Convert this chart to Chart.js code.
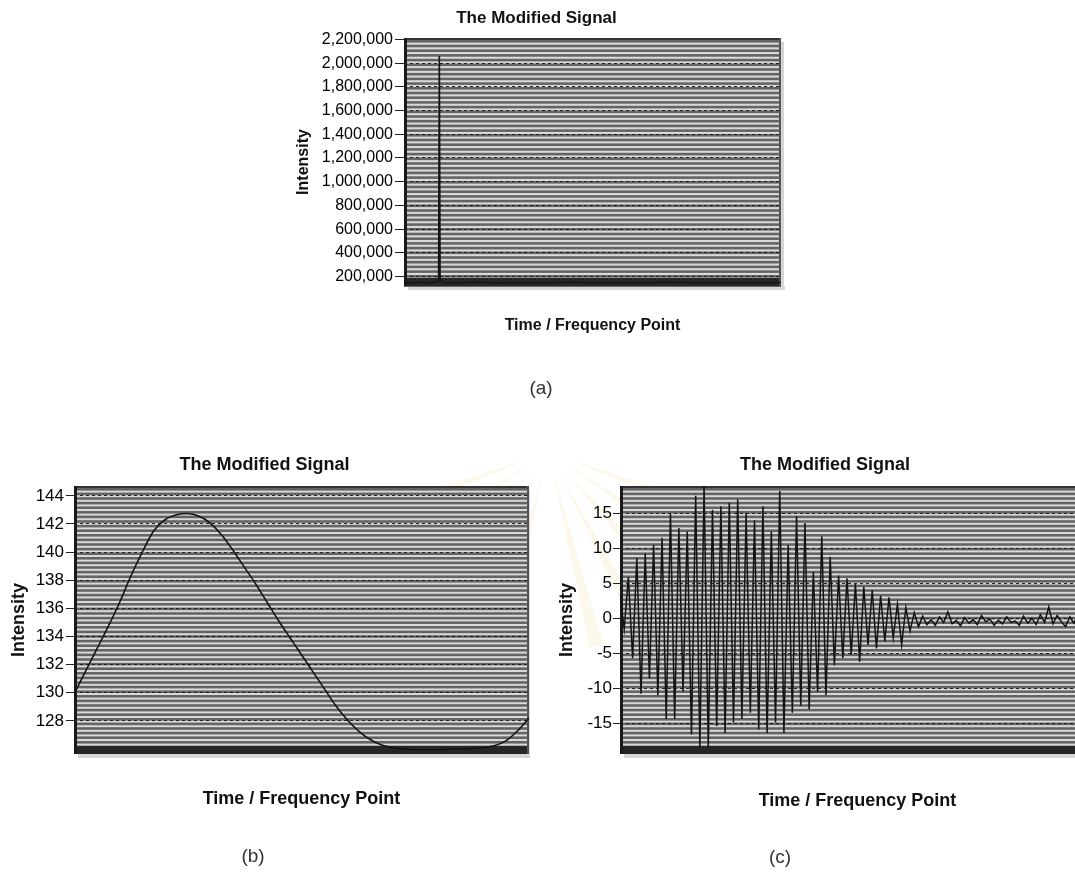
<!DOCTYPE html>
<html>
<head>
<meta charset="utf-8">
<title>The Modified Signal</title>
<script src="https://cdn.jsdelivr.net/npm/chart.js@4.4.1/dist/chart.umd.min.js"></script>
<style>
  html, body { margin: 0; padding: 0; background: #fff; }
  body { position: relative; width: 1075px; height: 876px; overflow: hidden; font-family: 'Liberation Sans', Arial, sans-serif; }
  canvas { position: absolute; }
  .tag { position: absolute; width: 60px; text-align: center; font-size: 19px; line-height: 22px; color: #333; }
</style>
</head>
<body>
<canvas id="backdrop" width="1075" height="876" style="left:0;top:0"></canvas>
<canvas id="chartA" width="494" height="345" style="left:292px;top:0px"></canvas>
<canvas id="chartB" width="530" height="380" style="left:0px;top:440px"></canvas>
<canvas id="chartC" width="540" height="380" style="left:555px;top:440px"></canvas>
<div class="tag" style="left:511px;top:377px">(a)</div>
<div class="tag" style="left:223px;top:845px">(b)</div>
<div class="tag" style="left:750px;top:846px">(c)</div>
<script>
const FONT = "'Liberation Sans', Arial, sans-serif";

// (a) raw spectrum: one sharp spike, flat elsewhere
const aPoints = [0, 12, 24, 36, 44, 47, 48, 49, 52, 64, 96, 128, 160, 192, 224, 256, 288, 320, 352, 384, 416, 448, 480, 512];
const aIntensity = [150000, 146000, 152000, 148000, 155000, 160000, 2060000, 170000, 150000, 147000, 151000, 146000,
                    150000, 148000, 152000, 147000, 150000, 146000, 151000, 149000, 147000, 150000, 148000, 150000];
const aTicks = [200000, 400000, 600000, 800000, 1000000, 1200000, 1400000, 1600000, 1800000, 2000000, 2200000];

// (b) smooth single swing
const bPoints = [0, 1, 2, 3, 4, 5, 6, 7, 8, 9, 10, 11, 12, 13, 14, 15, 16, 17, 18, 19, 20,
                 21, 22, 23, 24, 25, 26, 27, 28, 29, 30, 31, 32, 33, 34, 35, 36, 37, 38, 39, 40];
const bIntensity = [129.9, 131.5, 133.1, 134.7, 136.4, 138.3, 140.0, 141.5, 142.3, 142.65, 142.75, 142.55, 142.05, 141.2,
                    140.1, 138.9, 137.7, 136.4, 135.1, 133.9, 132.7, 131.5, 130.3, 129.1, 128.1, 127.3, 126.7, 126.3,
                    126.1, 126.0, 125.95, 125.95, 125.95, 126.0, 126.0, 126.05, 126.1, 126.25, 126.6, 127.3, 128.2];
const bTicks = [128, 130, 132, 134, 136, 138, 140, 142, 144];

// (c) fast oscillation that dies out into noise
const cIntensity = [3.5, -1.5, 5.9, -5.7, 8.6, -10.8, 9.3, -8.6, 10.5, -11.0, 11.5, -14.4, 14.9, -14.4, 12.9, -10.5,
                    12.4, -16.6, 17.5, -18.5, 19.0, -18.5, 15.5, -15.4, 16.0, -16.4, 16.5, -14.9, 17.0, -14.4, 15.0, -13.5,
                    14.0, -15.9, 16.0, -16.4, 12.4, -14.9, 18.2, -16.4, 10.5, -13.5, 14.6, -12.5, 13.6, -13.0, 6.6, -10.5,
                    11.7, -11.0, 8.8, -6.7, 6.1, -5.7, 5.7, -5.2, 4.9, -6.2, 4.5, -3.8, 4.0, -4.3, 3.2, -3.3,
                    3.0, -2.8, 2.0, -3.8, 1.5, -1.8,
                    0.8, -1.2, 0.3, -0.9, -0.2, -1.0, 0.2, -0.6, 0.9, -0.8, -0.3, -1.1, 0.1, -0.7, -0.2, -0.9,
                    0.4, -0.5, -0.1, -1.0, -0.3, -0.8, 0.2, -0.6, -0.4, -1.0, 0.3, -0.7, 0.0, -0.9, 0.5, -0.6,
                    1.6, -0.8, 0.4, -0.5, -1.2, 0.2, -0.7, 0.6, -0.4, 1.2, -0.3, 1.0];
const cPoints = cIntensity.map((v, i) => i);
const cTicks = [-15, -10, -5, 0, 5, 10, 15];

// hatched plot area with a heavy frame, like the old spreadsheet charts
const plotFrame = {
  id: 'plotFrame',
  beforeDraw(chart, args, opts) {
    const { ctx, chartArea: a } = chart;
    ctx.save();
    ctx.fillStyle = '#d6d6d6';
    ctx.fillRect(a.left + 4, a.bottom, a.width, 4);
    ctx.fillRect(a.right, a.top + 4, 3, a.height);
    ctx.fillStyle = '#d9d9d9';
    ctx.fillRect(a.left, a.top, a.width, a.height);
    ctx.fillStyle = '#646464';
    for (let y = a.top + 2; y < a.bottom; y += opts.stripe) {
      ctx.fillRect(a.left, y, a.width, 2.6);
    }
    ctx.restore();
  },
  beforeDatasetsDraw(chart) {
    const { ctx, chartArea: a } = chart;
    ctx.save();
    ctx.fillStyle = '#262626';
    ctx.fillRect(a.left, a.bottom - 8, a.width, 8);
    ctx.fillStyle = '#333';
    ctx.fillRect(a.left, a.top, a.width, 2);
    ctx.fillStyle = '#555';
    ctx.fillRect(a.right - 2, a.top, 2, a.height);
    ctx.fillStyle = '#1a1a1a';
    ctx.fillRect(a.left, a.top, 3, a.height);
    ctx.restore();
  }
};
Chart.register(plotFrame);

function signalChart(id, cfg) {
  const points = cfg.points.map((x, i) => ({ x: x, y: cfg.values[i] }));
  return new Chart(document.getElementById(id), {
    type: 'line',
    data: {
      datasets: [{
        data: points,
        borderColor: '#141414',
        borderWidth: cfg.lineWidth,
        pointRadius: 0,
        tension: cfg.tension,
        cubicInterpolationMode: cfg.smooth ? 'monotone' : 'default',
        fill: false
      }]
    },
    options: {
      responsive: false,
      animation: false,
      events: [],
      layout: { padding: { left: 0, right: cfg.padRight, top: 0, bottom: 0 } },
      plugins: {
        legend: { display: false },
        tooltip: { enabled: false },
        title: {
          display: true,
          text: 'The Modified Signal',
          color: '#111',
          font: { family: FONT, size: cfg.titleSize, weight: 'bold' },
          padding: cfg.titlePad
        },
        plotFrame: { stripe: cfg.stripe }
      },
      scales: {
        x: {
          type: 'linear',
          min: cfg.points[0],
          max: cfg.points[cfg.points.length - 1],
          ticks: { display: false },
          grid: { display: false },
          border: { display: false },
          title: {
            display: true,
            text: 'Time / Frequency Point',
            color: '#111',
            font: { family: FONT, size: cfg.axisTitleSize, weight: 'bold' },
            padding: { top: 0, bottom: cfg.xTitleGap }
          },
          afterFit: s => { s.height = cfg.xAxisHeight; }
        },
        y: {
          min: cfg.yMin,
          max: cfg.yMax,
          afterBuildTicks: s => { s.ticks = cfg.ticks.map(v => ({ value: v })); },
          ticks: {
            autoSkip: false,
            padding: cfg.tickPad,
            color: '#000',
            font: { family: FONT, size: cfg.tickSize },
            callback: v => v.toLocaleString('en-US')
          },
          grid: { color: 'rgba(20,20,20,0.9)', tickColor: '#222', tickLength: cfg.tickLength, lineWidth: 1 },
          border: { display: false, dash: [3, 3] },
          title: {
            display: true,
            text: 'Intensity',
            color: '#111',
            font: { family: FONT, size: cfg.axisTitleSize, weight: 'bold' },
            padding: { top: cfg.yTitleGap, bottom: 0 }
          },
          afterFit: s => { s.width = cfg.yAxisWidth; }
        }
      }
    }
  });
}

signalChart('chartA', {
  points: aPoints, values: aIntensity, ticks: aTicks,
  yMin: 120000, yMax: 2212000,
  lineWidth: 1.6, tension: 0, smooth: false, stripe: 4.7,
  titleSize: 17, titlePad: { top: 8, bottom: 9.6 },
  axisTitleSize: 16, xTitleGap: 10, xAxisHeight: 59,
  yAxisWidth: 112, yTitleGap: 2.4, tickSize: 16, tickLength: 9, tickPad: 2,
  padRight: 5
});

signalChart('chartB', {
  points: bPoints, values: bIntensity, ticks: bTicks,
  yMin: 125.65, yMax: 144.7,
  lineWidth: 1.6, tension: 0.4, smooth: true, stripe: 4.6,
  titleSize: 18, titlePad: { top: 14, bottom: 10.4 },
  axisTitleSize: 18, xTitleGap: 10, xAxisHeight: 66,
  yAxisWidth: 74, yTitleGap: 8, tickSize: 17, tickLength: 8, tickPad: 2,
  padRight: 1
});

signalChart('chartC', {
  points: cPoints, values: cIntensity, ticks: cTicks,
  yMin: -19.4, yMax: 18.9,
  lineWidth: 1.5, tension: 0, smooth: false, stripe: 4.6,
  titleSize: 18, titlePad: { top: 14, bottom: 10.4 },
  axisTitleSize: 18, xTitleGap: 8, xAxisHeight: 66,
  yAxisWidth: 65, yTitleGap: 1.7, tickSize: 17, tickLength: 7, tickPad: 1,
  padRight: 0
});

// pale emblem rays behind the lower charts
const bg = document.getElementById('backdrop').getContext('2d');
bg.fillStyle = 'rgba(238, 210, 130, 0.16)';
[20, 34, 48, 62, 76, 104, 118, 132, 146, 160].forEach(deg => {
  const t = deg * Math.PI / 180, w = 0.035;
  bg.beginPath();
  bg.moveTo(548 + 20 * Math.cos(t), 452 + 20 * Math.sin(t));
  bg.lineTo(548 + 200 * Math.cos(t - w), 452 + 200 * Math.sin(t - w));
  bg.lineTo(548 + 200 * Math.cos(t + w), 452 + 200 * Math.sin(t + w));
  bg.closePath();
  bg.fill();
});
</script>
</body>
</html>
